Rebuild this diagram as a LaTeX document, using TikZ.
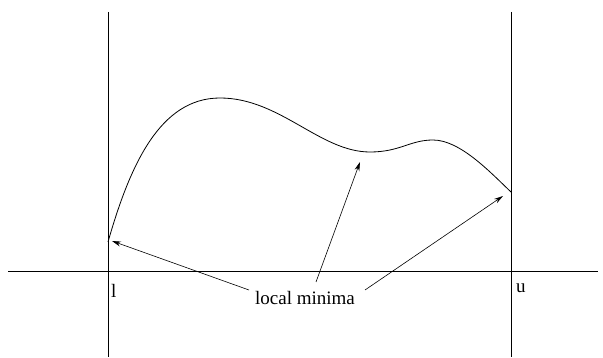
\documentclass[tikz,border=0pt]{standalone}
\usepackage{fontspec}
\setmainfont{Liberation Serif}
\usetikzlibrary{arrows.meta}
\begin{document}
\begin{tikzpicture}[x=1pt,y=-1pt,
  ln/.style={line width=0.8pt},
  arr/.style={line width=0.6pt,-{Stealth[length=9pt,width=5pt,inset=3pt]}},
  lbl/.style={font=\fontsize{19}{22}\selectfont, inner sep=0pt}]
\useasboundingbox (0,0) rectangle (603,358);
\coordinate (lt) at (108,12); \coordinate (lb) at (108,357);
\coordinate (rt) at (511,12); \coordinate (rb) at (511,357);
\coordinate (al) at (8,271); \coordinate (ar) at (598,271);
\draw[ln] (lt) -- (lb);
\draw[ln] (rt) -- (rb);
\draw[ln] (al) -- (ar);
\coordinate (c0) at (108,242);
\coordinate (c1) at (220,98);
\coordinate (c2) at (370,152);
\coordinate (c3) at (433,140);
\coordinate (c4) at (511,192);
\draw[ln] (c0) .. controls (130,165) and (160,98) .. (c1)
  .. controls (280,98) and (320,152) .. (c2)
  .. controls (400,152) and (410,140) .. (c3)
  .. controls (460,140) and (490,172) .. (c4);
\node[lbl, anchor=north west] (l) at (111,284) {l};
\node[lbl, anchor=north west] (u) at (516,284) {u};
\node[lbl] (lm) at (305,298) {local minima};
\coordinate (s1) at (249,290);
\coordinate (s2) at (316,282);
\coordinate (s3) at (365,290);
\coordinate (e1) at (112,241);
\coordinate (e2) at (360,162);
\coordinate (e3) at (503,196);
\draw[arr] (s1) -- (e1);
\draw[arr] (s2) -- (e2);
\draw[arr] (s3) -- (e3);
\end{tikzpicture}
\end{document}
